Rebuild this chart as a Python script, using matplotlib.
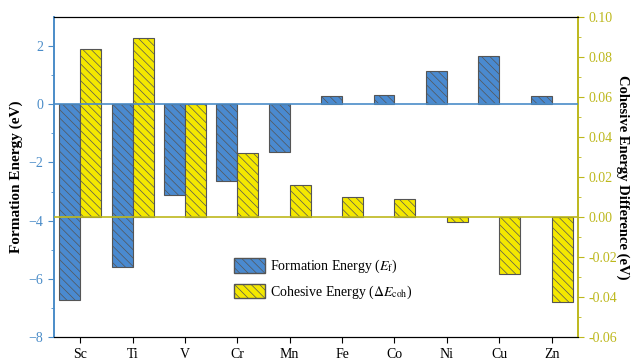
import matplotlib
matplotlib.use('Agg')
import matplotlib.pyplot as plt
import matplotlib.transforms as mtransforms
from matplotlib.patches import Patch
import numpy as np

elements = ['Sc', 'Ti', 'V', 'Cr', 'Mn', 'Fe', 'Co', 'Ni', 'Cu', 'Zn']
formation = [-6.73, -5.58, -3.13, -2.65, -1.63, 0.28, 0.32, 1.15, 1.66, 0.27]
cohesive = [0.084, 0.0895, 0.0565, 0.032, 0.016, 0.010, 0.009, -0.0025, -0.0285, -0.0425]

blue = '#4a8ad0'
yellow = '#f4e800'
left_col = '#4a8cc8'
right_col = '#bdb81c'

plt.rcParams['font.family'] = ['Liberation Serif', 'DejaVu Serif']
plt.rcParams['hatch.linewidth'] = 0.5
plt.rcParams['hatch.color'] = '#303030'
plt.rcParams['mathtext.fontset'] = 'stix'

fig = plt.figure(figsize=(6.35, 3.59), dpi=100)
ax1 = fig.add_axes([0.085, 0.061, 0.825, 0.892])
ax2 = ax1.twinx()

x = np.arange(len(elements))
w = 0.4
hatch = '\\\\\\\\'

ax1.bar(x - w / 2, formation, w, color=blue, edgecolor='#555555', linewidth=0.8,
        hatch=hatch, zorder=2)
ax2.bar(x + w / 2, cohesive, w, color=yellow, edgecolor='#555555', linewidth=0.8,
        hatch=hatch, zorder=2)

ax1.set_ylim(-8, 3)
ax2.set_ylim(-0.06, 0.10)
ax1.set_xlim(-0.5, len(elements) - 0.5)

# zero lines for both axes, drawn on top
ax2.axhline(0, color=right_col, lw=1.2, zorder=5)
trans = mtransforms.blended_transform_factory(ax2.transAxes, ax1.transData)
ax2.plot([0, 1], [0, 0], color=left_col, lw=1.2, transform=trans, zorder=5)

ax1.set_xticks(x)
ax1.set_xticklabels(elements, fontsize=10)
ax1.set_yticks(np.arange(-8, 3, 2))
ax1.set_yticks(np.arange(-7, 3, 2), minor=True)
ax2.set_yticks(np.arange(-0.06, 0.101, 0.02))
ax2.set_yticks(np.arange(-0.05, 0.1, 0.02), minor=True)
ax2.set_yticklabels(['%.2f' % v for v in np.arange(-0.06, 0.101, 0.02)])

ax1.tick_params(axis='y', colors=left_col, labelsize=10, direction='out', length=4)
ax1.tick_params(axis='y', which='minor', colors=left_col, length=2.5)
ax1.tick_params(axis='x', labelsize=10, direction='out', length=4)
ax2.tick_params(axis='y', colors=right_col, labelsize=10, direction='out', length=4)
ax2.tick_params(axis='y', which='minor', colors=right_col, length=2.5)

for a in (ax1, ax2):
    a.spines['left'].set_color(left_col)
    a.spines['right'].set_color(right_col)
    a.spines['left'].set_linewidth(1.2)
    a.spines['right'].set_linewidth(1.2)

ax1.set_ylabel('Formation Energy (eV)', fontsize=11, fontweight='bold', labelpad=4)
ax2.set_ylabel('Cohesive Energy Difference (eV)', fontsize=10.5, fontweight='bold',
               rotation=270, labelpad=9)

handles = [Patch(facecolor=blue, edgecolor='#555555', hatch=hatch),
           Patch(facecolor=yellow, edgecolor='#555555', hatch=hatch)]
labels = ['Formation Energy ($E_{\\mathrm{f}}$)',
          'Cohesive Energy ($\\Delta E_{\\mathrm{coh}}$)']
ax2.legend(handles, labels, loc='center left', bbox_to_anchor=(0.32, 0.18),
           frameon=False, fontsize=10, handlelength=2.2, handleheight=1.2,
           labelspacing=0.6, handletextpad=0.4)

fig.savefig('out.png', dpi=100)
